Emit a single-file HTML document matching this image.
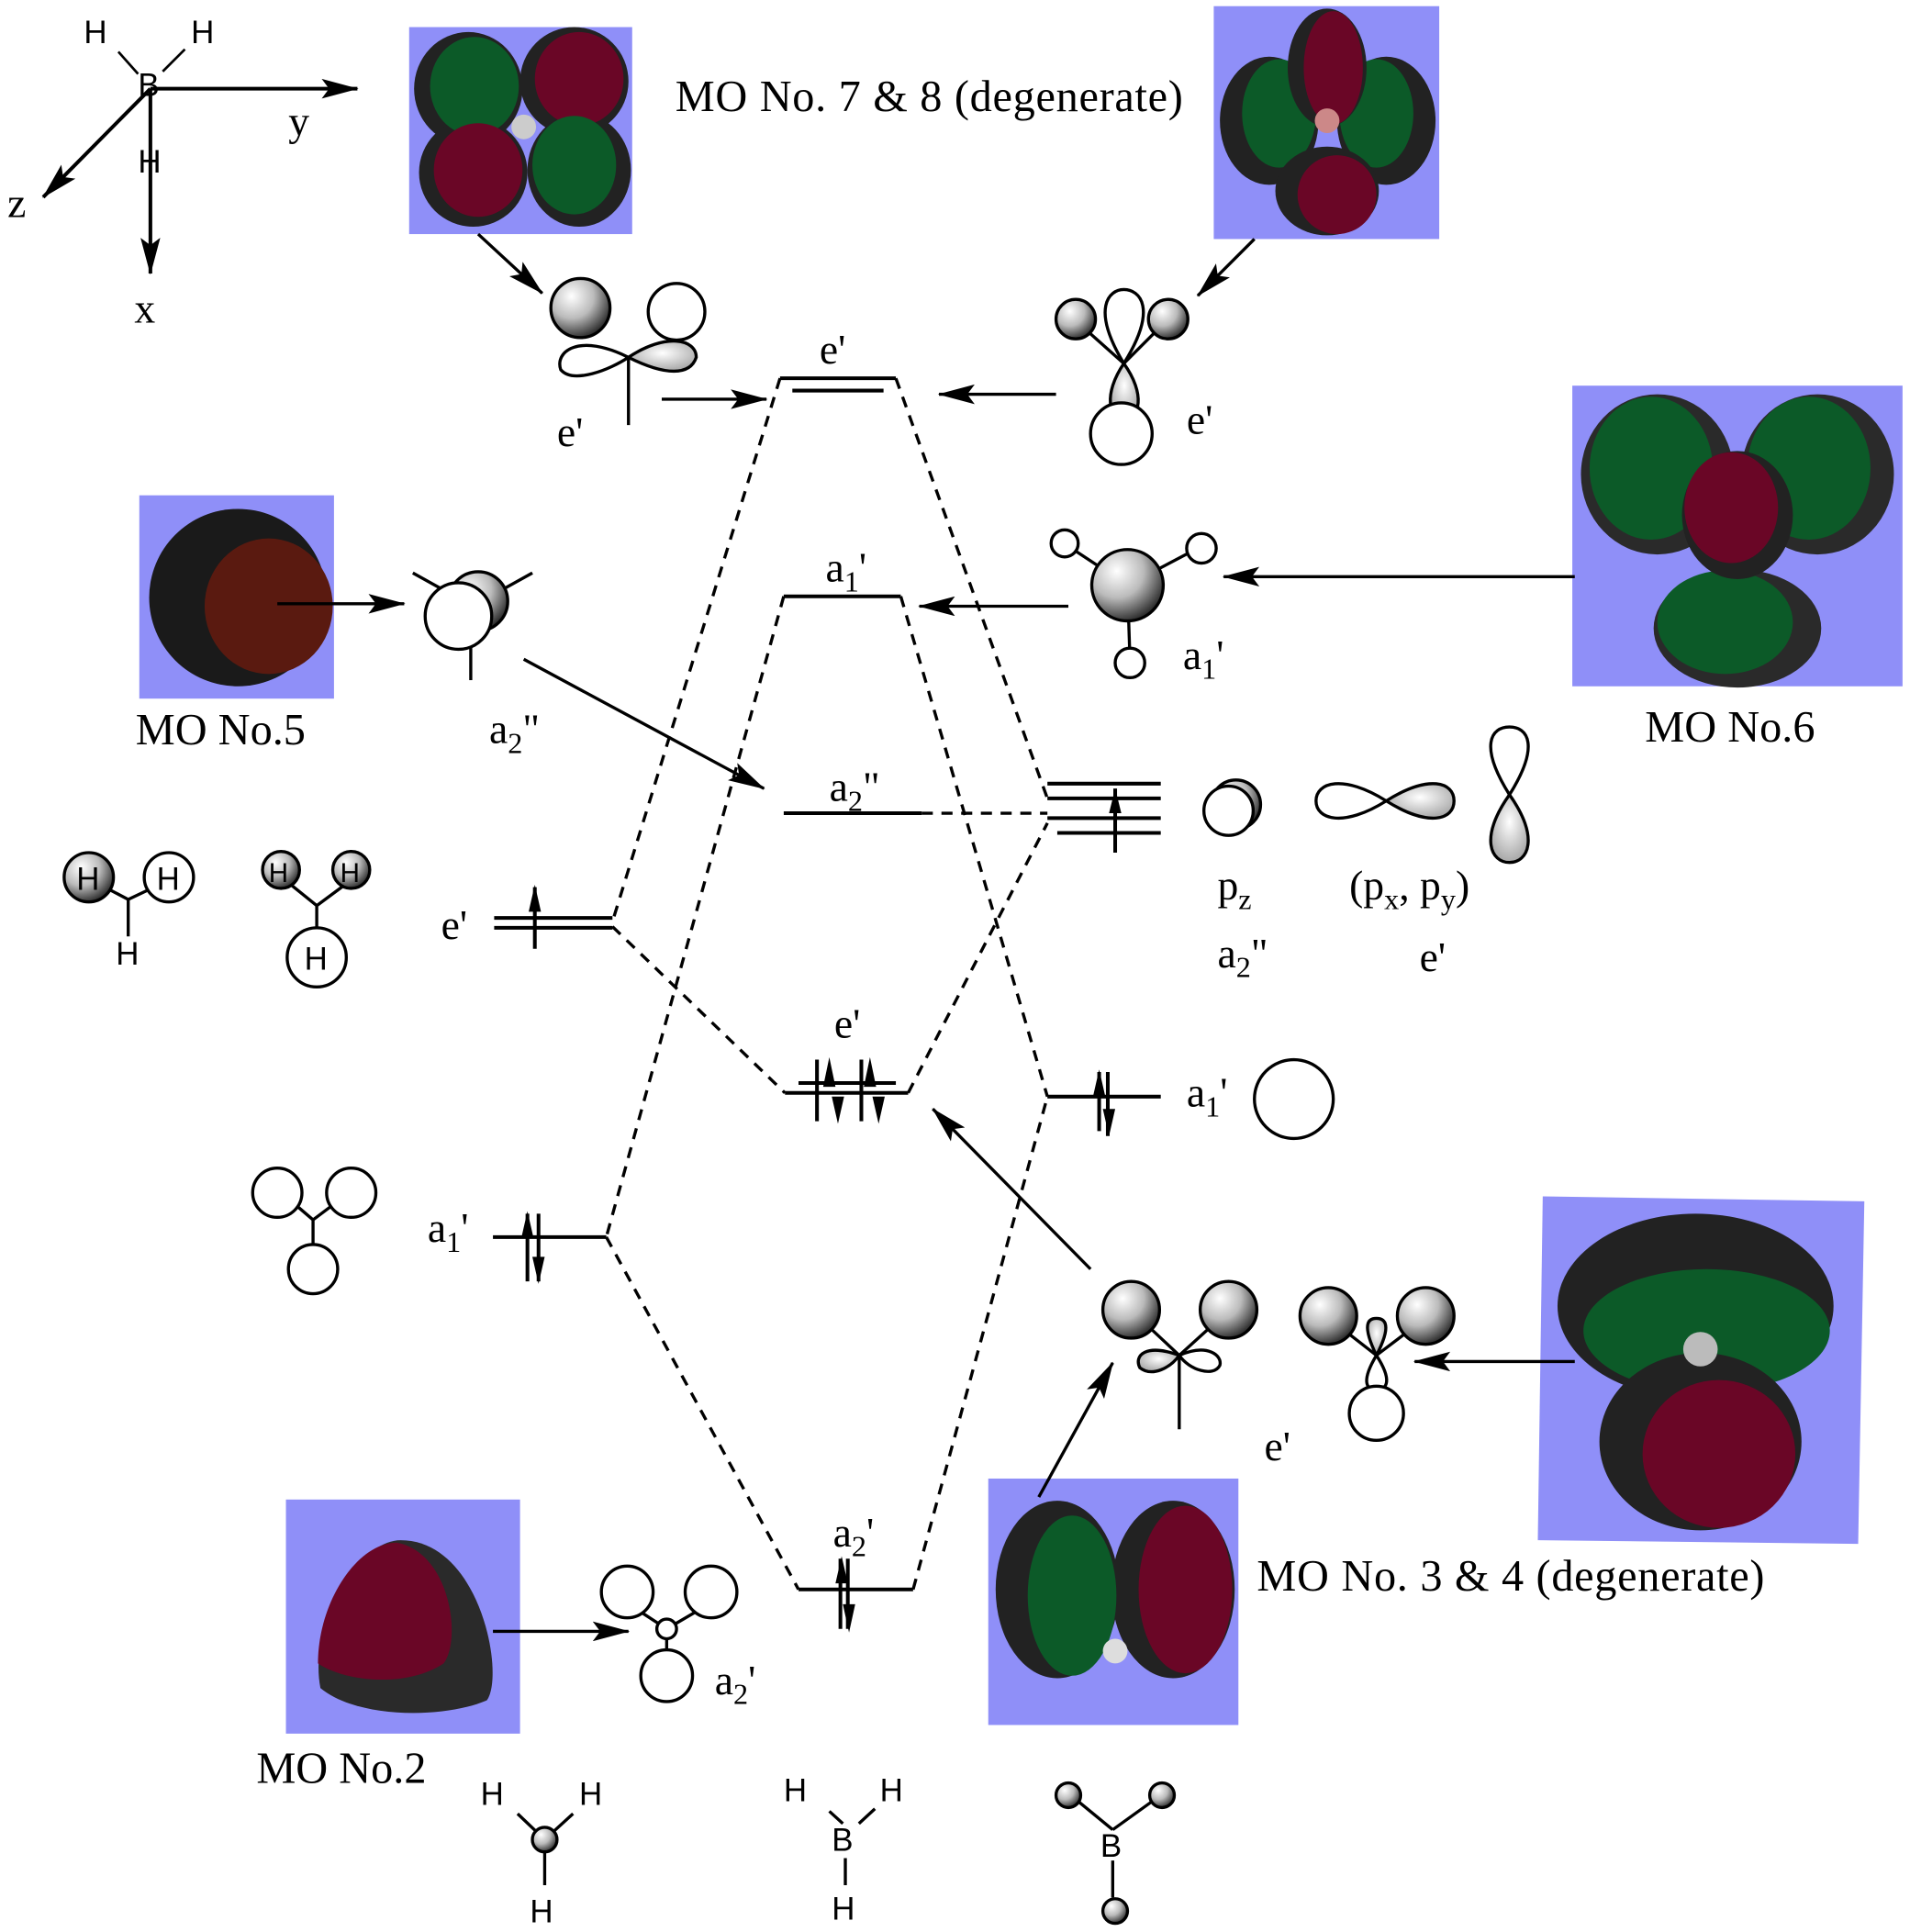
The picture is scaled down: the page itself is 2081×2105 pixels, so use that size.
<!DOCTYPE html>
<html><head><meta charset="utf-8"><style>
html,body{margin:0;padding:0;background:#fff;}
svg{display:block;}
text{font-family:"Liberation Serif",serif;fill:#000;}
.s{font-family:"Liberation Sans",sans-serif;}
</style></head><body>
<svg width="2081" height="2105" viewBox="0 0 1550 1568" xmlns="http://www.w3.org/2000/svg">
<defs>
<radialGradient id="ball" cx="0.35" cy="0.3" r="0.75"><stop offset="0" stop-color="#fff"/><stop offset="0.5" stop-color="#bbb"/><stop offset="1" stop-color="#222"/></radialGradient>
<radialGradient id="lobe" cx="0.5" cy="0.4" r="0.7"><stop offset="0" stop-color="#fff"/><stop offset="1" stop-color="#999"/></radialGradient>
<marker id="ar2" markerWidth="30" markerHeight="16" refX="29" refY="8" orient="auto" markerUnits="userSpaceOnUse" viewBox="0 0 30 16"><path d="M0,0 L30,8 L0,16 L6,8 z" fill="#000"/></marker>
</defs>
<g stroke="#000" stroke-width="3" fill="none">
<line x1="122" y1="72" x2="290" y2="72" marker-end="url(#ar2)"/>
<line x1="122" y1="72" x2="35" y2="160" marker-end="url(#ar2)"/>
<line x1="122" y1="72" x2="122" y2="222" marker-end="url(#ar2)"/>
<line x1="96" y1="42" x2="112" y2="60" stroke-width="2"/><line x1="150" y1="40" x2="132" y2="58" stroke-width="2"/>
</g>
<text class="s" x="68" y="35" font-size="26">H</text><text class="s" x="155" y="35" font-size="26">H</text>
<text class="s" x="112" y="78" font-size="26">B</text><text class="s" x="112" y="140" font-size="26">H</text>
<text x="234" y="110" font-size="34">y</text><text x="6" y="176" font-size="34">z</text><text x="109" y="262" font-size="34">x</text>

<!-- MO boxes -->
<g>
<rect x="332" y="22" width="181" height="168" fill="#8f8ff8"/>
<ellipse cx="380" cy="72" rx="44" ry="46" fill="#222"/><ellipse cx="466" cy="66" rx="44" ry="44" fill="#222"/>
<ellipse cx="384" cy="140" rx="44" ry="44" fill="#222"/><ellipse cx="470" cy="138" rx="42" ry="46" fill="#222"/>
<ellipse cx="385" cy="70" rx="36" ry="40" fill="#0c5a28"/><ellipse cx="470" cy="64" rx="36" ry="38" fill="#6a0626"/>
<ellipse cx="388" cy="138" rx="36" ry="38" fill="#6a0626"/><ellipse cx="466" cy="134" rx="34" ry="40" fill="#0c5a28"/>
<circle cx="425" cy="103" r="10" fill="#ccc"/>
<rect x="985" y="5" width="183" height="189" fill="#8f8ff8"/>
<ellipse cx="1030" cy="98" rx="40" ry="52" fill="#222"/><ellipse cx="1125" cy="98" rx="40" ry="52" fill="#222"/>
<ellipse cx="1038" cy="92" rx="30" ry="44" fill="#0c5a28"/><ellipse cx="1117" cy="92" rx="30" ry="44" fill="#0c5a28"/>
<ellipse cx="1077" cy="55" rx="32" ry="48" fill="#222"/><ellipse cx="1082" cy="55" rx="24" ry="46" fill="#6a0626"/>
<ellipse cx="1077" cy="155" rx="42" ry="36" fill="#222"/><ellipse cx="1085" cy="158" rx="32" ry="32" fill="#6a0626"/>
<circle cx="1077" cy="98" r="10" fill="#c88"/>
<rect x="1276" y="313" width="268" height="244" fill="#8f8ff8"/>
<ellipse cx="1345" cy="385" rx="62" ry="65" fill="#2a2a2a"/><ellipse cx="1475" cy="385" rx="62" ry="65" fill="#2a2a2a"/>
<ellipse cx="1340" cy="380" rx="50" ry="58" fill="#0c5a28"/><ellipse cx="1468" cy="380" rx="50" ry="58" fill="#0c5a28"/>
<ellipse cx="1410" cy="510" rx="68" ry="48" fill="#2a2a2a"/><ellipse cx="1400" cy="505" rx="55" ry="42" fill="#0c5a28"/>
<ellipse cx="1410" cy="418" rx="45" ry="52" fill="#222"/><ellipse cx="1405" cy="412" rx="38" ry="45" fill="#6a0626"/>
<rect x="113" y="402" width="158" height="165" fill="#8f8ff8"/>
<circle cx="193" cy="485" r="72" fill="#1a1a1a"/><ellipse cx="218" cy="492" rx="52" ry="55" fill="#5a1a10"/>
<polygon points="1252,971 1513,975 1508,1253 1248,1250" fill="#8f8ff8"/>
<ellipse cx="1376" cy="1060" rx="112" ry="75" fill="#222"/><ellipse cx="1385" cy="1080" rx="100" ry="50" fill="#0c5a28"/>
<ellipse cx="1380" cy="1170" rx="82" ry="72" fill="#222"/><ellipse cx="1395" cy="1180" rx="62" ry="60" fill="#6a0626"/>
<circle cx="1380" cy="1095" r="14" fill="#bbb"/>
<rect x="802" y="1200" width="203" height="200" fill="#8f8ff8"/>
<ellipse cx="858" cy="1290" rx="50" ry="72" fill="#222"/><ellipse cx="952" cy="1290" rx="50" ry="72" fill="#222"/>
<ellipse cx="870" cy="1295" rx="36" ry="65" fill="#0c5a28"/><ellipse cx="962" cy="1290" rx="38" ry="68" fill="#6a0626"/>
<circle cx="905" cy="1340" r="10" fill="#ddd"/>
<rect x="232" y="1217" width="190" height="190" fill="#8f8ff8"/>
<path d="M325,1250 C390,1250 410,1360 395,1380 C360,1395 290,1395 260,1370 C250,1320 290,1250 325,1250z" fill="#2a2a2a"/>
<path d="M322,1252 C365,1260 375,1330 360,1350 C330,1370 280,1365 258,1350 C258,1300 290,1252 322,1252z" fill="#6a0626"/>
</g>

<!-- levels -->
<g stroke="#000" stroke-width="3" fill="none">
<path d="M633,307 H727 M643,317 H717"/>
<path d="M636,484 H731"/>
<path d="M636,660 H748"/>
<path d="M637,887 H737 M648,879 H727"/>
<path d="M648,1290 H741"/>
<path d="M401,745 H497 M401,753 H497"/>
<path d="M400,1004 H492"/>
<path d="M850,636 H942 M850,648 H942 M850,664 H942 M858,676 H942"/>
<path d="M850,890 H942"/>
<path d="M434,720 V770 M905,640 V692 M663,860 V910 M699,860 V910 M428,985 V1040 M437,985 V1040 M688,1265 V1322 M682,1265 V1322 M892,870 V918 M899,870 V922"/>
</g>
<g fill="#000">
<path d="M429,740 L434,718 L439,740z"/><path d="M900,660 L905,640 L910,660z"/>
<path d="M668,882 L673,858 L678,882z M675,890 L680,912 L685,890z"/>
<path d="M701,882 L706,858 L711,882z M708,890 L713,912 L718,890z"/>
<path d="M423,1005 L428,983 L433,1005z M432,1020 L437,1042 L442,1020z"/>
<path d="M678,1285 L683,1263 L688,1285z M684,1302 L689,1325 L694,1302z"/>
<path d="M887,890 L892,868 L897,890z M895,900 L900,922 L905,900z"/>
</g>
<g stroke="#000" stroke-width="2.5" fill="none" stroke-dasharray="9,7">
<path d="M633,307 L497,748"/><path d="M727,307 L850,648"/>
<path d="M636,484 L492,1004"/><path d="M731,484 L850,890"/>
<path d="M748,660 L850,660"/>
<path d="M497,752 L637,887"/><path d="M737,887 L850,668"/>
<path d="M492,1004 L648,1290"/><path d="M741,1290 L850,890"/>
</g>
<g stroke="#000" stroke-width="2.5">
<line x1="388" y1="190" x2="440" y2="238" marker-end="url(#ar2)"/>
<line x1="1018" y1="194" x2="972" y2="240" marker-end="url(#ar2)"/>
<line x1="537" y1="324" x2="622" y2="324" marker-end="url(#ar2)"/>
<line x1="857" y1="320" x2="762" y2="320" marker-end="url(#ar2)"/>
<line x1="225" y1="490" x2="328" y2="490" marker-end="url(#ar2)"/>
<line x1="425" y1="535" x2="620" y2="640" marker-end="url(#ar2)"/>
<line x1="867" y1="492" x2="746" y2="492" marker-end="url(#ar2)"/>
<line x1="1278" y1="468" x2="993" y2="468" marker-end="url(#ar2)"/>
<line x1="885" y1="1030" x2="757" y2="900" marker-end="url(#ar2)"/>
<line x1="843" y1="1215" x2="903" y2="1106" marker-end="url(#ar2)"/>
<line x1="1278" y1="1105" x2="1148" y2="1105" marker-end="url(#ar2)"/>
<line x1="400" y1="1324" x2="510" y2="1324" marker-end="url(#ar2)"/>
</g>

<g stroke="#000" stroke-width="2.5">
<line x1="510" y1="290" x2="510" y2="345"/>
<path d="M510,290 C470,270 450,285 455,300 C465,312 495,300 510,290z" fill="#fff"/>
<path d="M510,290 C540,270 565,275 565,290 C560,305 540,305 510,290z" fill="url(#lobe)"/>
<circle cx="549" cy="253" r="23" fill="#fff"/>
<circle cx="471" cy="250" r="24" fill="url(#ball)"/>
<path d="M912,295 C885,250 900,235 912,235 C925,235 940,250 912,295z" fill="#fff"/>
<path d="M912,295 C895,320 900,340 912,340 C925,340 930,320 912,295z" fill="url(#lobe)"/>
<line x1="912" y1="295" x2="875" y2="262"/><line x1="912" y1="295" x2="945" y2="262"/>
<circle cx="873" cy="259" r="16" fill="url(#ball)"/><circle cx="948" cy="259" r="16" fill="url(#ball)"/>
<circle cx="910" cy="352" r="25" fill="#fff"/>
<line x1="335" y1="465" x2="362" y2="480"/><line x1="432" y1="465" x2="405" y2="480"/>
<line x1="382" y1="525" x2="382" y2="552"/>
<circle cx="388" cy="488" r="24" fill="url(#ball)"/>
<circle cx="372" cy="500" r="27" fill="#fff"/>
<line x1="915" y1="475" x2="865" y2="442"/><line x1="915" y1="475" x2="970" y2="446"/><line x1="915" y1="475" x2="917" y2="535"/>
<circle cx="864" cy="441" r="11" fill="#fff"/><circle cx="975" cy="445" r="12" fill="#fff"/><circle cx="917" cy="538" r="12" fill="#fff"/>
<circle cx="915" cy="475" r="29" fill="url(#ball)"/>
<circle cx="1003" cy="653" r="20" fill="url(#ball)"/><circle cx="997" cy="658" r="20" fill="#fff"/>
<path d="M1125,650 C1090,628 1068,635 1068,650 C1068,665 1090,672 1125,650z" fill="#fff"/>
<path d="M1125,650 C1160,628 1180,635 1180,650 C1180,665 1160,672 1125,650z" fill="url(#lobe)"/>
<path d="M1225,645 C1200,605 1210,590 1225,590 C1240,590 1250,605 1225,645z" fill="#fff"/>
<path d="M1225,645 C1200,680 1210,700 1225,700 C1240,700 1250,680 1225,645z" fill="url(#lobe)"/>
<circle cx="1050" cy="892" r="32" fill="#fff"/>
<path d="M104,730 V760 M104,730 L85,720 M104,730 L125,720" fill="none"/>
<circle cx="72" cy="712" r="20" fill="url(#ball)"/><circle cx="137" cy="712" r="20" fill="#fff"/>
<path d="M257,735 L236,718 M257,735 L280,718 M257,735 V755" fill="none"/>
<circle cx="228" cy="706" r="15" fill="url(#ball)"/><circle cx="285" cy="706" r="15" fill="url(#ball)"/>
<circle cx="257" cy="777" r="24" fill="#fff"/>
<path d="M254,990 L240,978 M254,990 L270,978 M254,990 V1010" fill="none"/>
<circle cx="225" cy="968" r="20" fill="#fff"/><circle cx="285" cy="968" r="20" fill="#fff"/><circle cx="254" cy="1030" r="20" fill="#fff"/>
<line x1="957" y1="1100" x2="957" y2="1160"/>
<line x1="957" y1="1100" x2="925" y2="1070"/><line x1="957" y1="1100" x2="990" y2="1070"/>
<path d="M957,1100 C930,1090 920,1100 925,1110 C935,1118 950,1110 957,1100z" fill="url(#lobe)"/>
<path d="M957,1100 C980,1090 992,1100 990,1108 C985,1118 965,1112 957,1100z" fill="#fff"/>
<circle cx="918" cy="1063" r="23" fill="url(#ball)"/><circle cx="997" cy="1063" r="23" fill="url(#ball)"/>
<line x1="1117" y1="1100" x2="1085" y2="1075"/><line x1="1117" y1="1100" x2="1150" y2="1075"/>
<path d="M1117,1100 C1105,1075 1110,1070 1117,1070 C1124,1070 1130,1075 1117,1100z" fill="url(#lobe)"/>
<path d="M1117,1100 C1105,1120 1108,1128 1117,1128 C1126,1128 1130,1120 1117,1100z" fill="#fff"/>
<circle cx="1078" cy="1068" r="23" fill="url(#ball)"/><circle cx="1157" cy="1068" r="23" fill="url(#ball)"/>
<circle cx="1117" cy="1147" r="22" fill="#fff"/>
<line x1="541" y1="1322" x2="515" y2="1305"/><line x1="541" y1="1322" x2="570" y2="1305"/><line x1="541" y1="1322" x2="541" y2="1340"/>
<circle cx="509" cy="1292" r="21" fill="#fff"/><circle cx="577" cy="1292" r="21" fill="#fff"/><circle cx="541" cy="1360" r="21" fill="#fff"/>
<circle cx="541" cy="1322" r="8" fill="#fff"/>
<path d="M442,1493 L420,1472 M442,1493 L465,1472 M442,1493 V1530" fill="none"/>
<circle cx="442" cy="1493" r="10" fill="url(#ball)"/>
<path d="M673,1470 L684,1480 M697,1480 L710,1468 M686,1508 V1530" fill="none"/>
<path d="M903,1485 L875,1462 M903,1485 L935,1462 M903,1510 V1540" fill="none"/>
<circle cx="867" cy="1457" r="10" fill="url(#ball)"/><circle cx="943" cy="1457" r="10" fill="url(#ball)"/><circle cx="905" cy="1551" r="10" fill="url(#ball)"/>
</g>
<g font-size="36">
<text x="548" y="90" textLength="412">MO No. 7 &amp; 8 (degenerate)</text>
<text x="110" y="604">MO No.5</text>
<text x="1335" y="602">MO No.6</text>
<text x="208" y="1447">MO No.2</text>
<text x="1020" y="1291" textLength="412">MO No. 3 &amp; 4 (degenerate)</text>
</g>
<g font-size="34">
<text x="665" y="295">e'</text>
<text x="670" y="472">a<tspan font-size="24" dy="8">1</tspan><tspan dy="-8">'</tspan></text>
<text x="673" y="650">a<tspan font-size="24" dy="8">2</tspan><tspan dy="-8">"</tspan></text>
<text x="677" y="842">e'</text>
<text x="676" y="1255">a<tspan font-size="24" dy="8">2</tspan><tspan dy="-8">'</tspan></text>
<text x="358" y="762">e'</text>
<text x="347" y="1008">a<tspan font-size="24" dy="8">1</tspan><tspan dy="-8">'</tspan></text>
<text x="452" y="362">e'</text>
<text x="963" y="352">e'</text>
<text x="960" y="543">a<tspan font-size="24" dy="8">1</tspan><tspan dy="-8">'</tspan></text>
<text x="397" y="603">a<tspan font-size="24" dy="8">2</tspan><tspan dy="-8">"</tspan></text>
<text x="988" y="730">p<tspan font-size="24" dy="8">z</tspan></text>
<text x="1095" y="730">(p<tspan font-size="24" dy="8">x</tspan><tspan dy="-8">, p</tspan><tspan font-size="24" dy="8">y</tspan><tspan dy="-8">)</tspan></text>
<text x="988" y="785">a<tspan font-size="24" dy="8">2</tspan><tspan dy="-8">"</tspan></text>
<text x="1152" y="788">e'</text>
<text x="963" y="898">a<tspan font-size="24" dy="8">1</tspan><tspan dy="-8">'</tspan></text>
<text x="1026" y="1185">e'</text>
<text x="580" y="1375">a<tspan font-size="24" dy="8">2</tspan><tspan dy="-8">'</tspan></text>
</g>
<g class="s" font-size="26">
<text class="s" x="62" y="722">H</text><text class="s" x="127" y="722">H</text><text class="s" x="94" y="783">H</text>
<text class="s" x="218" y="716" font-size="22">H</text><text class="s" x="276" y="716" font-size="22">H</text><text class="s" x="247" y="787">H</text>
<text class="s" x="390" y="1465">H</text><text class="s" x="470" y="1465">H</text><text class="s" x="430" y="1560">H</text>
<text class="s" x="636" y="1462">H</text><text class="s" x="714" y="1462">H</text><text class="s" x="675" y="1502">B</text><text class="s" x="675" y="1558">H</text>
<text class="s" x="893" y="1507">B</text>
</g>
</svg>
</body></html>
